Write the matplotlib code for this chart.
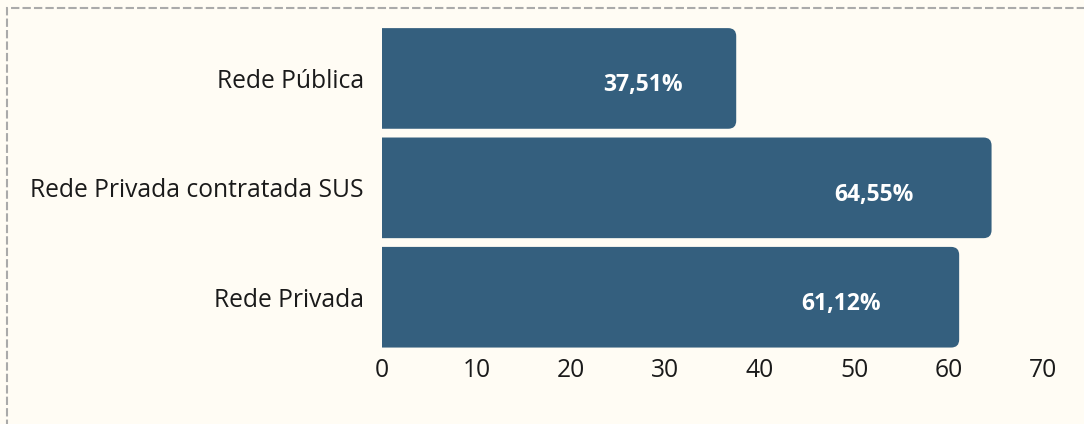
import matplotlib.pyplot as plt
from matplotlib.patches import PathPatch, Rectangle
from matplotlib.path import Path

plt.rcParams['font.family'] = ['Open Sans', 'DejaVu Sans']

categories = ["Rede Pública", "Rede Privada contratada SUS", "Rede Privada"]
values = [37.51, 64.55, 61.12]
labels = ["37,51%", "64,55%", "61,12%"]
label_offset = [9.9, 12.5, 12.5]

BG = "#fffcf4"
BAR = "#345f7e"

fig = plt.figure(figsize=(10.84, 4.24), dpi=100, facecolor=BG)
ax = fig.add_axes([0.3524, 0.170, 0.6098, 0.774], facecolor=BG)

bars = ax.barh(range(len(values)), values, height=0.92, color=BAR)
ax.set_xlim(0, 70)
ax.set_ylim(2.5, -0.5)

# round only the right corners (radius ~8 px)
px_x = 0.6098 * 1084 / 70
px_y = 0.774 * 424 / 3
rx, ry = 8 / px_x, 8 / px_y
for b in bars:
    b.set_visible(False)
    x0, y0 = b.get_x(), b.get_y()
    x1, y1 = x0 + b.get_width(), y0 + b.get_height()
    verts = [(x0, y0), (x1 - rx, y0), (x1, y0), (x1, y0 + ry), (x1, y1 - ry),
             (x1, y1), (x1 - rx, y1), (x0, y1), (x0, y0)]
    codes = [Path.MOVETO, Path.LINETO, Path.CURVE3, Path.CURVE3, Path.LINETO,
             Path.CURVE3, Path.CURVE3, Path.LINETO, Path.CLOSEPOLY]
    ax.add_patch(PathPatch(Path(verts, codes), fc=BAR, ec="none"))

for i, (v, t) in enumerate(zip(values, labels)):
    ax.annotate(t, (v - label_offset[i], i), xytext=(0, -5), textcoords="offset points",
                color="white", fontsize=16.5, fontweight="bold", ha="center", va="center")

ax.set_yticks(range(len(categories)))
ax.set_yticklabels(categories, fontsize=17.7, color="#1a1a1a")
ax.set_xticks(range(0, 71, 10))
ax.tick_params(axis="x", length=0, pad=4.5, labelsize=17.7, labelcolor="#1a1a1a")
ax.tick_params(axis="y", length=0, pad=13)
for s in ax.spines.values():
    s.set_visible(False)

# dashed frame
fig.patches.append(Rectangle((7 / 1084, -0.1), 1.2, 1 - 8 / 424 + 0.1, transform=fig.transFigure,
                             fill=False, ec="#aaaaaa", lw=1.5, ls=(0, (4, 1.5)), figure=fig))

fig.savefig("out.png", dpi=100, facecolor=BG)
